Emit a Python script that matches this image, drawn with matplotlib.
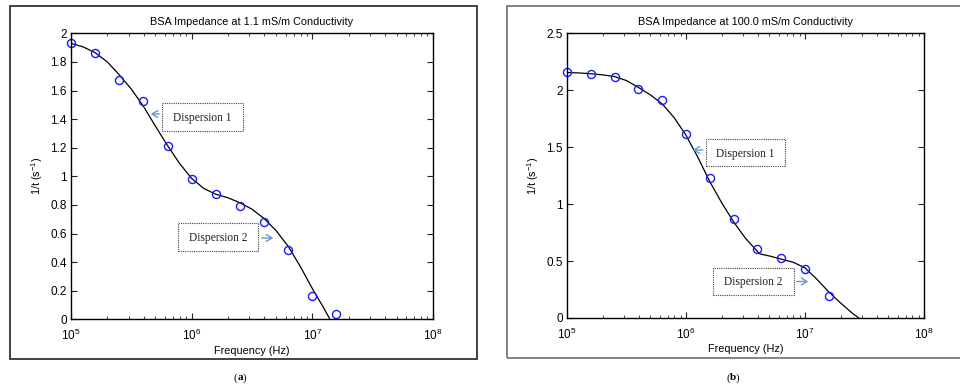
import numpy as np
import matplotlib
matplotlib.use("Agg")
import matplotlib.pyplot as plt
from matplotlib.patches import Rectangle, FancyArrowPatch
from matplotlib.ticker import LogLocator, NullFormatter, FixedLocator

# ---------------- data ----------------
freq_pts = [1.0e5, 1.58e5, 2.51e5, 3.98e5, 6.31e5, 1.0e6, 1.58e6, 2.51e6, 3.98e6, 6.31e6, 1.0e7, 1.58e7]
meas_a = [1.93, 1.86, 1.674, 1.529, 1.214, 0.979, 0.874, 0.792, 0.680, 0.483, 0.163, 0.035]
meas_b = [2.158, 2.143, 2.114, 2.009, 1.910, 1.617, 1.225, 0.866, 0.608, 0.529, 0.427, 0.196]

fit_freq_a = [1.0e5, 1.26e5, 1.58e5, 2.0e5, 2.51e5, 3.16e5, 3.98e5, 5.01e5, 6.31e5, 7.94e5,
              1.0e6, 1.26e6, 1.58e6, 2.0e6, 2.51e6, 3.16e6, 3.98e6, 5.01e6, 6.31e6, 7.94e6,
              1.0e7, 1.26e7, 1.4e7]
fit_a = [1.93, 1.905, 1.865, 1.80, 1.71, 1.61, 1.49, 1.35, 1.215, 1.09,
         0.985, 0.915, 0.875, 0.85, 0.815, 0.77, 0.705, 0.62, 0.51, 0.37,
         0.215, 0.07, 0.0]

fit_freq_b = [1.0e5, 1.26e5, 1.58e5, 2.0e5, 2.51e5, 3.16e5, 3.98e5, 5.01e5, 6.31e5, 7.94e5,
              1.0e6, 1.26e6, 1.58e6, 2.0e6, 2.51e6, 3.16e6, 3.98e6, 4.2e6, 5.01e6, 6.31e6, 7.94e6,
              1.0e7, 1.26e7, 1.58e7, 2.0e7, 2.51e7, 2.84e7]
fit_b = [2.155, 2.152, 2.145, 2.135, 2.12, 2.085, 2.025, 1.96, 1.88, 1.76,
         1.605, 1.41, 1.20, 1.01, 0.845, 0.70, 0.585, 0.562, 0.545, 0.517, 0.49,
         0.44, 0.34, 0.23, 0.13, 0.04, 0.0]

titles = ["BSA Impedance at 1.1 mS/m Conductivity", "BSA Impedance at 100.0 mS/m Conductivity"]
yticks_a = [0, 0.2, 0.4, 0.6, 0.8, 1, 1.2, 1.4, 1.6, 1.8, 2]
yticklabels_a = ["0", "0.2", "0.4", "0.6", "0.8", "1", "1.2", "1.4", "1.6", "1.8", "2"]
yticks_b = [0, 0.5, 1, 1.5, 2, 2.5]
yticklabels_b = ["0", "0.5", "1", "1.5", "2", "2.5"]
xticks = [1e5, 1e6, 1e7, 1e8]
xticklabels = ["10$^{5}$", "10$^{6}$", "10$^{7}$", "10$^{8}$"]
panel_labels = ["a", "b"]
annot_text = ["Dispersion 1", "Dispersion 2"]

# ---------------- figure ----------------
W, H = 960, 385
fig = plt.figure(figsize=(W / 100, H / 100), dpi=100)
plt.rcParams['font.family'] = ['Liberation Sans', 'DejaVu Sans']
plt.rcParams['mathtext.fontset'] = 'custom'
plt.rcParams['mathtext.rm'] = 'Liberation Sans'
plt.rcParams['mathtext.default'] = 'rm'

def fx(px):
    return px / W

def fy(py):
    return 1 - py / H

def add_axes(l, t, r, b):
    return fig.add_axes([fx(l), fy(b), fx(r) - fx(l), fy(t) - fy(b)])

# outer frames
fig.patches.append(Rectangle((fx(10), fy(359)), fx(477) - fx(10), fy(6) - fy(359),
                             transform=fig.transFigure, fill=False, edgecolor="#333333", lw=1.3))
fig.patches.append(Rectangle((fx(507), fy(357.5)), fx(975) - fx(507), fy(6) - fy(357.5),
                             transform=fig.transFigure, fill=False, edgecolor="#7a7a7a", lw=1.3,
                             clip_on=False))

ax_a = add_axes(71, 33.3, 433, 319.3)
ax_b = add_axes(567, 33.3, 924, 318)

def style(ax, yt, ytl, ymax, title):
    ax.set_xscale("log")
    ax.set_xlim(1e5, 1e8)
    ax.set_ylim(0, ymax)
    ax.set_yticks(yt)
    ax.set_yticklabels(ytl)
    ax.xaxis.set_major_locator(FixedLocator(xticks))
    ax.set_xticklabels(xticklabels)
    ax.xaxis.set_minor_locator(LogLocator(base=10, subs=np.arange(2, 10), numticks=20))
    ax.xaxis.set_minor_formatter(NullFormatter())
    ax.tick_params(which="both", direction="in", top=True, right=True, labelsize=8.5, color="#222222")
    ax.tick_params(which="major", length=4, width=0.8)
    ax.tick_params(axis="y", which="major", pad=3)
    ax.tick_params(axis="x", which="major", pad=6)
    ax.tick_params(which="minor", length=2.2, width=0.6)
    for s in ax.spines.values():
        s.set_linewidth(1.0)
    ax.set_title(title, fontsize=7.8, pad=6)
    ax.set_xlabel("Frequency (Hz)", fontsize=7.8, labelpad=2)
    ax.set_ylabel("1/t (s$^{-1}$)", fontsize=7.8, labelpad=4)

style(ax_a, yticks_a, yticklabels_a, 2, titles[0])
style(ax_b, yticks_b, yticklabels_b, 2.5, titles[1])

ax_a.plot(fit_freq_a, fit_a, color="black", lw=0.9)
ax_a.plot(freq_pts, meas_a, "o", mfc="none", mec="#1a1aff", ms=5.8, mew=1.0, clip_on=False)
ax_b.plot(fit_freq_b, fit_b, color="black", lw=0.9)
ax_b.plot(freq_pts, meas_b, "o", mfc="none", mec="#1a1aff", ms=5.8, mew=1.0, clip_on=False)

# annotation boxes (pixel coordinates -> figure coords)
def box(l, t, r, b, text, arrow_from, arrow_to):
    fig.patches.append(Rectangle((fx(l), fy(b)), fx(r) - fx(l), fy(t) - fy(b),
                                 transform=fig.transFigure, fill=True, facecolor="white",
                                 edgecolor="#444444", lw=0.8, linestyle=(0, (1, 1)), zorder=5))
    fig.text(fx((l + r) / 2), fy((t + b) / 2 + 1), text, ha="center", va="center",
             fontsize=8.3, family=["Liberation Serif", "DejaVu Serif"], color="#222222", zorder=6)
    fig.add_artist(FancyArrowPatch(
        (fx(arrow_from[0]), fy(arrow_from[1])), (fx(arrow_to[0]), fy(arrow_to[1])),
        transform=fig.transFigure, arrowstyle="->,head_length=4,head_width=2.5",
        color="#5b9bd5", lw=1.0, mutation_scale=1, zorder=6))

box(162, 103, 243, 131, annot_text[0], (162, 114), (148, 114))
box(178, 223, 258, 251, annot_text[1], (259, 238), (276, 238))
box(705.5, 139, 785, 166, annot_text[0], (705.5, 150), (690, 150))
box(713, 268, 794, 294.5, annot_text[1], (794, 281.5), (811, 281.5))

# panel labels
for x, lab in [(240, panel_labels[0]), (733, panel_labels[1])]:
    fig.text(fx(x - 4.5), fy(378), "(", ha="center", va="center", fontsize=8,
             family=["Liberation Serif", "DejaVu Serif"])
    fig.text(fx(x), fy(378), lab, ha="center", va="center", fontsize=8, fontweight="bold",
             family=["Liberation Serif", "DejaVu Serif"])
    fig.text(fx(x + 4.5), fy(378), ")", ha="center", va="center", fontsize=8,
             family=["Liberation Serif", "DejaVu Serif"])

fig.savefig("out.png", dpi=100)
